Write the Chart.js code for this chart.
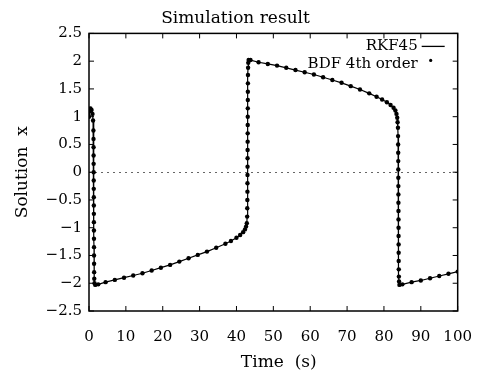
<!DOCTYPE html>
<html>
<head>
<meta charset="utf-8">
<script src="https://cdn.jsdelivr.net/npm/chart.js@4/dist/chart.umd.min.js"></script>
<style>
  html, body { margin: 0; padding: 0; background: #fff; }
  #wrap { width: 481px; height: 374px; }
</style>
</head>
<body>
<div id="wrap"><canvas id="simChart"></canvas></div>
<script>
// time (s) and solution x
const timeData = [
    0, 0.15, 0.4, 0.7, 0.95, 1.1, 1.2,
    1.22, 1.24, 1.25, 1.26, 1.27, 1.28, 1.29, 1.3, 1.31, 1.32, 1.33, 1.34, 1.35, 1.36, 1.37, 1.38, 1.4, 1.43, 1.5,
    1.7, 2.5, 4.5, 7, 9.5, 12, 14.5, 17, 19.5, 22, 24.5, 27, 29.5, 32, 34.5, 37, 38.5, 40, 41, 41.8, 42.3, 42.6, 42.8,
    42.9, 42.93, 42.95, 42.97, 42.98, 42.99, 43.0, 43.01, 43.02, 43.03, 43.04, 43.05, 43.06, 43.07, 43.08, 43.09, 43.1, 43.12, 43.15, 43.2, 43.3,
    43.8, 46, 48.5, 51, 53.5, 56, 58.5, 61, 63.5, 66, 68.5, 71, 73.5, 76, 78, 79.5, 80.8, 81.8, 82.6, 83.1, 83.4, 83.6, 83.7,
    83.8, 83.83, 83.85, 83.87, 83.88, 83.89, 83.9, 83.91, 83.92, 83.93, 83.94, 83.95, 83.96, 83.97, 83.98, 83.99, 84.0, 84.02, 84.05, 84.1, 84.2,
    85, 87.5, 90, 92.5, 95, 97.5, 100
];
const xData = [
    1.0, 1.1, 1.15, 1.12, 1.05, 0.93, 0.75,
    0.6, 0.45, 0.3, 0.15, 0, -0.15, -0.3, -0.45, -0.6, -0.75, -0.9, -1.05, -1.2, -1.35, -1.5, -1.65, -1.8, -1.92, -2.0,
    -2.03, -2.02, -1.98, -1.94, -1.90, -1.86, -1.82, -1.77, -1.72, -1.67, -1.61, -1.55, -1.49, -1.43, -1.36, -1.29, -1.24, -1.18, -1.13, -1.08, -1.03, -0.98, -0.92,
    -0.8, -0.65, -0.5, -0.35, -0.2, -0.05, 0.1, 0.25, 0.4, 0.55, 0.7, 0.85, 1.0, 1.15, 1.3, 1.45, 1.6, 1.75, 1.88, 1.97, 2.02,
    2.02, 1.98, 1.95, 1.92, 1.88, 1.84, 1.80, 1.76, 1.71, 1.66, 1.61, 1.55, 1.49, 1.42, 1.36, 1.31, 1.26, 1.21, 1.16, 1.11, 1.05, 0.98, 0.9,
    0.8, 0.65, 0.5, 0.35, 0.2, 0.05, -0.1, -0.25, -0.4, -0.55, -0.7, -0.85, -1.0, -1.15, -1.3, -1.45, -1.6, -1.75, -1.88, -1.97, -2.03,
    -2.02, -1.98, -1.95, -1.91, -1.87, -1.83, -1.79
];
const seriesNames = ['RKF45', 'BDF 4th order'];
const xTicks = [0, 10, 20, 30, 40, 50, 60, 70, 80, 90, 100];
const yTicks = [-2.5, -2, -1.5, -1, -0.5, 0, 0.5, 1, 1.5, 2, 2.5];

const points = timeData.map((t, i) => ({ x: t, y: xData[i] }));
const serif = 'DejaVu Serif';

// box frame with inward ticks, like gnuplot
const framePlugin = {
    id: 'frame',
    afterDatasetsDraw(chart) {
        const { ctx, chartArea: a, scales } = chart;
        ctx.save();
        ctx.strokeStyle = '#000';
        ctx.lineWidth = 1.5;
        ctx.strokeRect(a.left, a.top, a.right - a.left, a.bottom - a.top);
        ctx.lineWidth = 1;
        ctx.beginPath();
        xTicks.forEach(v => {
            const px = scales.x.getPixelForValue(v);
            ctx.moveTo(px, a.bottom); ctx.lineTo(px, a.bottom - 5);
            ctx.moveTo(px, a.top); ctx.lineTo(px, a.top + 5);
        });
        yTicks.forEach(v => {
            const py = scales.y.getPixelForValue(v);
            ctx.moveTo(a.left, py); ctx.lineTo(a.left + 5, py);
            ctx.moveTo(a.right, py); ctx.lineTo(a.right - 5, py);
        });
        ctx.stroke();

        // legend in the top right corner
        ctx.font = '15px "' + serif + '"';
        ctx.fillStyle = '#000';
        ctx.textAlign = 'right';
        ctx.textBaseline = 'middle';
        const tx = a.right - 40;
        ctx.fillText(seriesNames[0], tx, a.top + 13);
        ctx.fillText(seriesNames[1], tx, a.top + 31);
        ctx.lineWidth = 1.3;
        ctx.beginPath();
        ctx.moveTo(tx + 4, a.top + 13);
        ctx.lineTo(tx + 27, a.top + 13);
        ctx.stroke();
        ctx.beginPath();
        ctx.arc(tx + 13, a.top + 27, 1.6, 0, Math.PI * 2);
        ctx.fill();
        ctx.restore();
    }
};

const myChart = new Chart(document.getElementById('simChart').getContext('2d'), {
    type: 'line',
    data: {
        datasets: [{
            label: seriesNames[0],
            data: points,
            borderColor: '#000',
            borderWidth: 1.2,
            pointRadius: 0,
            tension: 0
        }, {
            label: seriesNames[1],
            data: points,
            showLine: false,
            pointStyle: 'circle',
            pointRadius: 2.2,
            pointBackgroundColor: '#000',
            pointBorderColor: '#000',
            pointBorderWidth: 0
        }]
    },
    options: {
        responsive: true,
        maintainAspectRatio: false,
        animation: false,
        layout: { padding: { left: 10, right: 20, top: 0, bottom: 1 } },
        plugins: {
            legend: { display: false },
            tooltip: { enabled: false },
            title: {
                display: true,
                text: 'Simulation result',
                color: '#000',
                font: { family: serif, size: 17, weight: 'normal' },
                padding: { top: 8, bottom: 5 }
            }
        },
        scales: {
            x: {
                type: 'linear',
                min: 0,
                max: 100,
                afterFit: s => { s.height = 62; },
                afterBuildTicks: s => { s.ticks = xTicks.map(v => ({ value: v })); },
                grid: { display: false },
                border: { display: false },
                ticks: { color: '#000', padding: 9, maxRotation: 0, font: { family: serif, size: 15 } },
                title: {
                    display: true,
                    text: '  Time  (s)',
                    color: '#000',
                    font: { family: serif, size: 17 },
                    padding: { top: 0, bottom: 0 }
                }
            },
            y: {
                min: -2.5,
                max: 2.5,
                afterFit: s => { s.width = 79; },
                afterBuildTicks: s => { s.ticks = yTicks.map(v => ({ value: v })); },
                grid: {
                    drawTicks: false,
                    lineWidth: 1,
                    color: c => c.tick && c.tick.value === 0 ? 'rgba(0,0,0,0.6)' : 'rgba(0,0,0,0)'
                },
                border: { display: false, dash: [2, 4] },
                ticks: {
                    color: '#000',
                    padding: 7,
                    font: { family: serif, size: 15 },
                    callback: v => String(v).replace('-', '\u2212')
                },
                title: {
                    display: true,
                    text: 'Solution  x',
                    color: '#000',
                    font: { family: serif, size: 17 },
                    padding: { top: 2, bottom: 0 }
                }
            }
        }
    },
    plugins: [framePlugin]
});
</script>
</body>
</html>
